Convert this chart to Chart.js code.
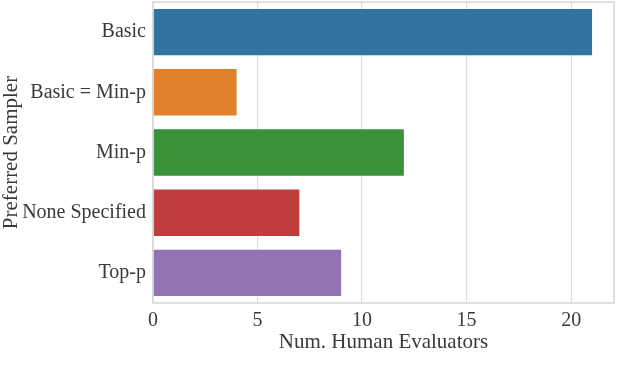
<!DOCTYPE html>
<html><head><meta charset="utf-8">
<script src="https://cdn.jsdelivr.net/npm/chart.js@4"></script>
<style>html,body{margin:0;padding:0;background:#fff}#wrap{width:640px;height:375px}</style>
</head><body><div id="wrap"><canvas id="c" width="640" height="375"></canvas></div>
<script>
const categories = ["Basic", "Basic = Min-p", "Min-p", "None Specified", "Top-p"];
const evaluators = [21, 4, 12, 7, 9];
const barColors = ["#3274a1", "#e1812c", "#3a923a", "#c03d3e", "#9372b2"];
const xTicks = [0, 5, 10, 15, 20];

const FONT = "'Liberation Serif', 'DejaVu Serif', serif";
const TXT = "#3a3a3a";

const frame = {
  id: 'frame',
  afterDatasetsDraw(chart) {
    const a = chart.chartArea, ctx = chart.ctx;
    ctx.save();
    ctx.strokeStyle = '#d6d6d6';
    ctx.lineWidth = 1.5;
    ctx.strokeRect(a.left, a.top, a.right - a.left, a.bottom - a.top);
    ctx.restore();
  }
};

new Chart(document.getElementById('c'), {
  type: 'bar',
  data: {
    labels: categories,
    datasets: [{
      data: evaluators,
      backgroundColor: barColors,
      borderWidth: 0,
      categoryPercentage: 1.0,
      barPercentage: 0.77
    }]
  },
  options: {
    indexAxis: 'y',
    responsive: false,
    animation: false,
    devicePixelRatio: 1,
    layout: { padding: { top: 2, right: 26, left: 0, bottom: 20 } },
    plugins: { legend: { display: false }, tooltip: { enabled: false } },
    scales: {
      x: {
        min: 0, max: 22.05,
        afterBuildTicks(s) { s.ticks = xTicks.map(v => ({ value: v })); },
        afterFit(s) { s.height = 52; s.paddingLeft = 0; s.paddingRight = 0; },
        grid: { color: '#dedede', lineWidth: 1.2, drawTicks: false },
        border: { display: false },
        ticks: { color: TXT, font: { family: FONT, size: 20 }, padding: 6 },
        title: { display: true, text: 'Num. Human Evaluators', color: TXT,
                 font: { family: FONT, size: 21 }, padding: { top: 0, bottom: 0 } }
      },
      y: {
        afterFit(s) { s.width = 153; s.paddingTop = 0; s.paddingBottom = 0; },
        grid: { display: false, drawTicks: false },
        border: { display: false },
        ticks: { color: TXT, font: { family: FONT, size: 20 }, padding: 7 },
        title: { display: true, text: 'Preferred Sampler', color: TXT,
                 font: { family: FONT, size: 21 }, padding: { top: -1, bottom: 0 } }
      }
    }
  },
  plugins: [frame]
});
</script></body></html>
